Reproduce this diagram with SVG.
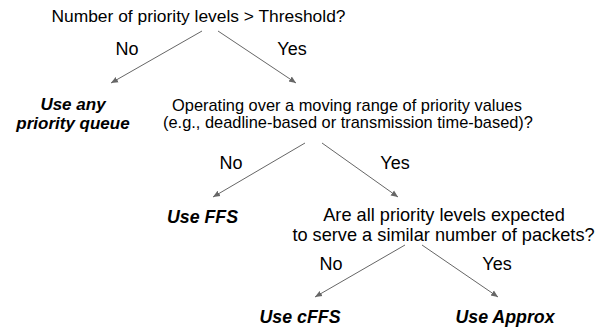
<svg xmlns="http://www.w3.org/2000/svg" width="598" height="327" viewBox="0 0 598 327">
<style>
text { font-family: "Liberation Sans", Arial, sans-serif; font-size: 18px; fill: #000; text-anchor: middle; }
.ans { font-weight: bold; font-style: italic; font-size: 17.8px; }
.ans2 { font-size: 17px; }
.q1 { font-size: 17.4px; }
.q2 { font-size: 16.4px; }
.q3 { font-size: 18.2px; }
.edge { stroke: #666; stroke-width: 1; fill: none; marker-end: url(#ah); }
</style>
<defs>
<marker id="ah" markerUnits="userSpaceOnUse" markerWidth="8" markerHeight="8" refX="7" refY="4" orient="auto">
<path d="M0,1 L7,4 L0,7 Z" fill="#666"/>
</marker>
</defs>
<rect width="598" height="327" fill="#fff"/>
<g id="connectors">
<line class="edge" x1="202" y1="31" x2="111" y2="83"/>
<line class="edge" x1="218" y1="31" x2="296" y2="83"/>
<line class="edge" x1="305" y1="143" x2="213" y2="197"/>
<line class="edge" x1="322" y1="143" x2="398" y2="197"/>
<line class="edge" x1="405" y1="245" x2="315" y2="297"/>
<line class="edge" x1="422" y1="245" x2="498" y2="297"/>
<text x="127" y="55">No</text>
<text x="292" y="55">Yes</text>
<text x="231" y="169">No</text>
<text x="395" y="169">Yes</text>
<text x="331" y="270">No</text>
<text x="497" y="270">Yes</text>
</g>
<g id="q1"><text class="q1" x="198.5" y="22">Number of priority levels &gt; Threshold?</text></g>
<g id="anyqueue"><text class="ans ans2" x="73" y="109.5">Use any</text><text class="ans ans2" x="73" y="128.5">priority queue</text></g>
<g id="q2"><text class="q2" x="347" y="111">Operating over a moving range of priority values</text><text class="q2" x="348" y="128">(e.g., deadline-based or transmission time-based)?</text></g>
<g id="ffs"><text class="ans" x="202.5" y="223">Use FFS</text></g>
<g id="q3"><text class="q3" x="444" y="221">Are all priority levels expected</text><text class="q3" x="443.5" y="241">to serve a similar number of packets?</text></g>
<g id="cffs"><text class="ans" x="300" y="323">Use cFFS</text></g>
<g id="approx"><text class="ans" x="505" y="323">Use Approx</text></g>
</svg>
